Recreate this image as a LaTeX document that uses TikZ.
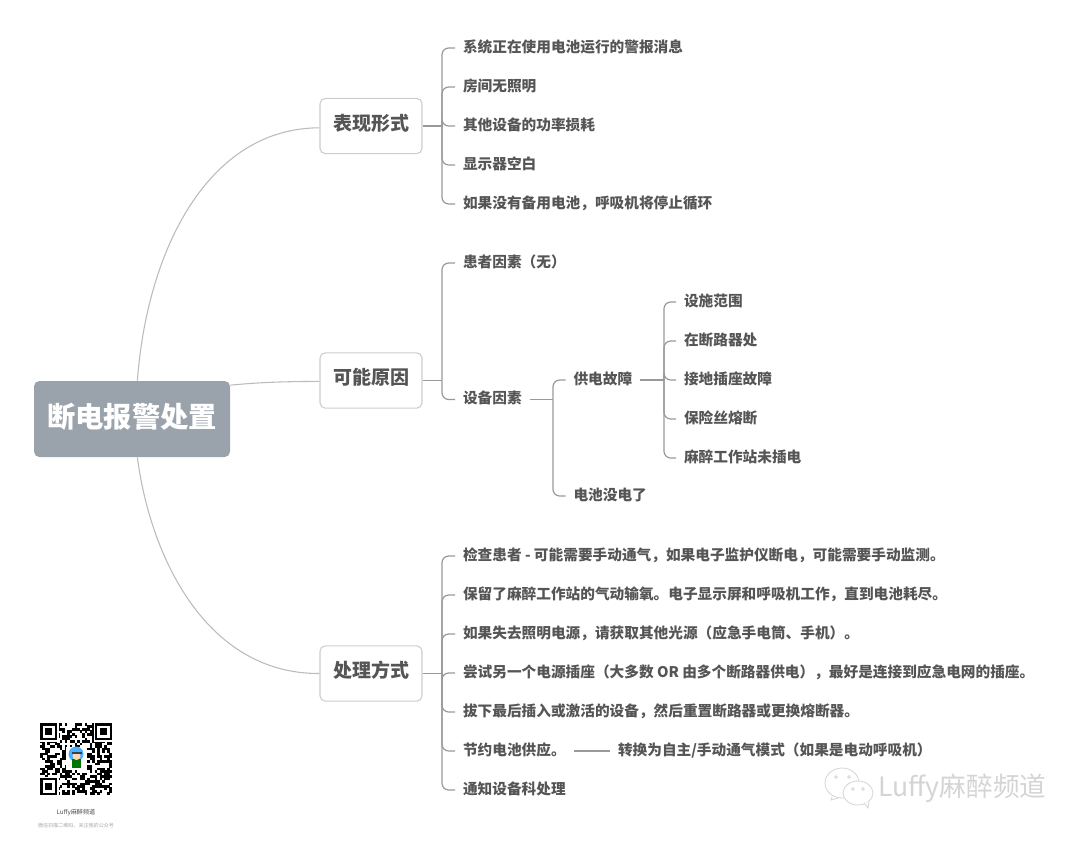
\documentclass[tikz,border=0pt]{standalone}
\usepackage{xcolor}
\usepackage{fontspec}
\setmainfont{Noto Sans CJK SC}
\usepackage{tikz}
\usetikzlibrary{positioning}

\definecolor{rootgray}{HTML}{9AA3AB}
\definecolor{inkgray}{HTML}{555555}
\definecolor{linegray}{HTML}{999999}
\definecolor{curvegray}{HTML}{BBBBBB}
\definecolor{boxgray}{HTML}{CCCCCC}
\definecolor{markgray}{HTML}{D4D4D4}

\begin{document}
\begin{tikzpicture}[
  x=0.75pt, y=-0.75pt,
  root/.style={rectangle, rounded corners=4pt, fill=rootgray, text=white, font=\fontsize{21.2}{25}\selectfont\bfseries,
               minimum width=147pt, minimum height=57pt, inner sep=0pt, text height=18.5pt, text depth=5.5pt},
  branch/.style={rectangle, rounded corners=4pt, draw=boxgray, fill=white, line width=0.8pt, text=inkgray,
                 font=\fontsize{14.25}{17}\selectfont\bfseries, minimum width=76.5pt, minimum height=41.5pt, inner sep=0pt,
                 text height=12.6pt, text depth=6.3pt},
  item/.style={anchor=west, text=inkgray, font=\fontsize{11}{13}\selectfont\bfseries,
               minimum height=29.25pt, inner ysep=0pt, inner xsep=6pt, outer sep=0pt,
               text height=9.7pt, text depth=3.7pt},
  under/.style={below=0pt of #1.south west, anchor=north west},
  curve/.style={draw=curvegray, line width=0.8pt},
  link/.style={draw=linegray, line width=0.9pt},
  elbow/.style={link, rounded corners=5pt},
  module/.style={fill=black, draw=none},
  bubble/.style={draw=markgray, fill=white, line width=0.6pt}
]
\useasboundingbox (0,0) rectangle (1080,840);

% centre and three branches
\node[root]   (alarm) at (132,419) {断电报警处置};
\node[branch] (face)  at (371,126) {表现形式};
\node[branch] (cause) at (371,380.5) {可能原因};
\node[branch] (act)   at (371,673.5) {处理方式};

\draw[curve] (alarm.82) .. controls (147,250) and (208,128) .. (face.182);
\draw[curve] (alarm.19) .. controls (262,382) and (290,381.5) .. (cause.181);
\draw[curve] (alarm.-82) .. controls (150,555) and (205,674) .. (act.west);

% first branch
\node[item] (f1) at (455,48) {系统正在使用电池运行的警报消息};
\node[item, under=f1] (f2) {房间无照明};
\node[item, under=f2] (f3) {其他设备的功率损耗};
\node[item, under=f3] (f4) {显示器空白};
\node[item, under=f4] (f5) {如果没有备用电池，呼吸机将停止循环};

\coordinate (facetrunk) at (442,126);
\draw[link] (face.east) -- (facetrunk);
\foreach \k in {1,...,5}
  \draw[elbow] (facetrunk) |- (f\k.west);

% second branch
\node[item] (c1) at (455,263) {患者因素（无）};
\node[item] (c2) at (455,399.5) {设备因素};
\node[item] (s1) at (565.5,380) {供电故障};
\node[item] (s2) at (565.5,496) {电池没电了};
\node[item] (p1) at (676,302) {设施范围};
\node[item, under=p1] (p2) {在断路器处};
\node[item, under=p2] (p3) {接地插座故障};
\node[item, under=p3] (p4) {保险丝熔断};
\node[item, under=p4] (p5) {麻醉工作站未插电};

\coordinate (causetrunk) at (442,380.5);
\coordinate (devtrunk) at (553,399.5);
\coordinate (powertrunk) at (664,380);
\draw[link] (cause.east) -- (causetrunk);
\draw[link] (c2.east) -- (devtrunk);
\draw[link] (s1.east) -- (powertrunk);
\foreach \k in {1,2}
  \draw[elbow] (causetrunk) |- (c\k.west);
\foreach \k in {1,2}
  \draw[elbow] (devtrunk) |- (s\k.west);
\foreach \k in {1,...,5}
  \draw[elbow] (powertrunk) |- (p\k.west);

% third branch
\node[item] (a1) at (455,556) {检查患者 - 可能需要手动通气，如果电子监护仪断电，可能需要手动监测。};
\node[item, under=a1] (a2) {保留了麻醉工作站的气动输氧。电子显示屏和呼吸机工作，直到电池耗尽。};
\node[item, under=a2] (a3) {如果失去照明电源，请获取其他光源（应急手电筒、手机）。};
\node[item, under=a3] (a4) {尝试另一个电源插座（大多数 OR 由多个断路器供电），最好是连接到应急电网的插座。};
\node[item, under=a4] (a5) {拔下最后插入或激活的设备，然后重置断路器或更换熔断器。};
\node[item, under=a5] (a6) {节约电池供应。};
\node[item, under=a6] (a7) {通知设备科处理};
\node[item] (a8) at (610,751) {转换为自主/手动通气模式（如果是电动呼吸机）};

\coordinate (acttrunk) at (442,673.5);
\draw[link] (act.east) -- (acttrunk);
\foreach \k in {1,...,7}
  \draw[elbow] (acttrunk) |- (a\k.west);
\draw[link] (a6.east) -- (a8.west);

% qr code
\pgfmathsetseed{41}
\foreach \i in {0,...,28}
  \foreach \j in {0,...,28} {
    \pgfmathparse{rnd>0.5 ? 1 : 0}
    \ifnum\pgfmathresult=1
      \fill[module] (40+\i*2.48,723+\j*2.48) rectangle ++(2.6,2.6);
    \fi
  }
\foreach \cx/\cy in {40/723, 94.6/723, 40/777.6} {
  \fill[white] (\cx-1,\cy-1) rectangle ++(20,20);
  \fill[black] (\cx,\cy) rectangle ++(17.4,17.4);
  \fill[white] (\cx+2.5,\cy+2.5) rectangle ++(12.4,12.4);
  \fill[black] (\cx+5,\cy+5) rectangle ++(7.4,7.4);
}
\fill[white] (66,747) rectangle (87,770);
\fill[blue!45!cyan!70!white] (76,754) circle (7.5);
\fill[green!45!black] (72,759) rectangle (81,768);
\fill[orange!30!white] (76.5,756) circle (4);
\fill[black!75] (71.5,752) rectangle (81.5,754);

\node[text=black!70, font=\fontsize{4.6}{5}\selectfont, inner sep=0pt] (qrname) at (76,813) {Luffy麻醉频道};
\node[text=black!35, font=\fontsize{3.8}{5}\selectfont, inner sep=0pt] (qrnote) at (76,826) {微信扫描二维码，关注我的公众号};

% watermark
\draw[bubble] (842,783) ellipse (17 and 15);
\draw[bubble] (832,797) -- (831,800) -- (838,798);
\draw[bubble] (858,793) ellipse (15 and 12);
\draw[bubble] (864,803) -- (868,808) -- (869,802);
\foreach \ex/\ey in {836/777, 849/777, 853/789, 863/789}
  \draw[draw=markgray, line width=0.5pt] (\ex,\ey) circle (1.4);
\node[text=markgray, anchor=west, font=\fontsize{20}{23}\selectfont, inner sep=0pt] (mark) at (878,788) {Luffy麻醉频道};

\end{tikzpicture}
\end{document}
